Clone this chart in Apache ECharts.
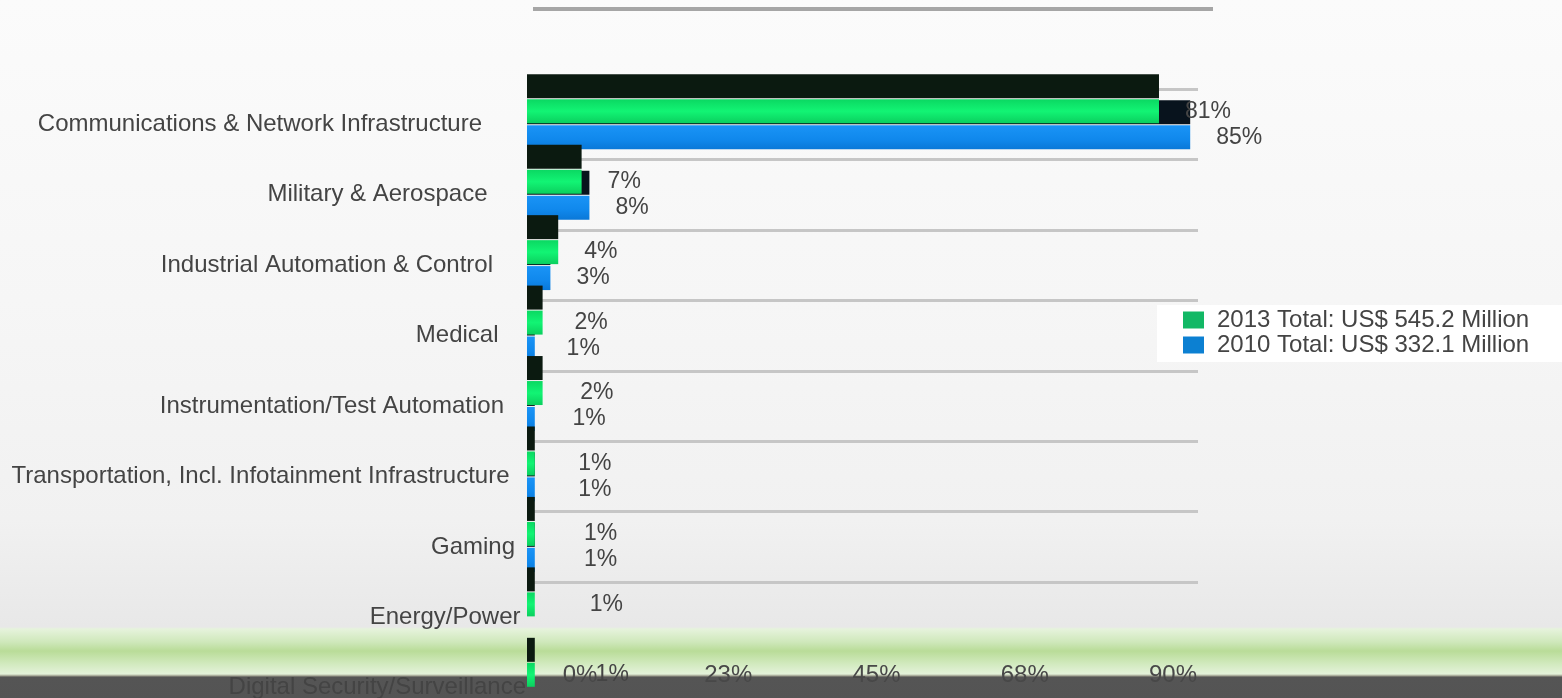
<!DOCTYPE html>
<html>
<head>
<meta charset="utf-8">
<script src="https://cdn.jsdelivr.net/npm/echarts@6/dist/echarts.min.js"></script>
<style>
html,body{margin:0;padding:0;}
#chart{width:1562px;height:698px;
background:linear-gradient(to bottom,#fbfbfb 0px,#f6f6f6 300px,#f1f1f1 520px,#e8e8e8 627px,#e6f3dc 629px,#cfe8bb 642px,#b9dc98 651px,#d2eabf 664px,#e4f2da 674px,#9a9a8a 676px,#555555 677px,#545454 698px);}
</style>
</head>
<body>
<div id="chart"></div>
<script>
const categories = [
  'Communications & Network Infrastructure',
  'Military & Aerospace',
  'Industrial Automation & Control',
  'Medical',
  'Instrumentation/Test Automation',
  'Transportation, Incl. Infotainment Infrastructure',
  'Gaming',
  'Energy/Power',
  'Digital Security/Surveillance'
];
const share2013 = [81, 7, 4, 2, 2, 1, 1, 1, 1];
const share2010 = [85, 8, 3, 1, 1, 1, 1, null, null];
const seriesNames = ['2013 Total: US$ 545.2 Million', '2010 Total: US$ 332.1 Million'];
const xTicks = [0, 22.5, 45, 67.5, 90];

const FONT = '"Liberation Sans", Arial, sans-serif';
const n = categories.length;
const rich = {};
categories.forEach((c, i) => {
  rich['p' + i] = {
    fontSize: 24, color: '#444', fontFamily: FONT,
    padding: [0, (n - 1 - i) * 5.5, 0, 0]
  };
});
// perspective drift of the value labels toward the lower rows
const labelDrift = p => ({dx: Math.max(0, (p.dataIndex - 2) * 5.8)});

const chart = echarts.init(document.getElementById('chart'), null, {renderer: 'canvas'});
const greenGrad = new echarts.graphic.LinearGradient(0, 0, 0, 1, [
  {offset: 0, color: '#0bd862'}, {offset: 0.5, color: '#12f474'}, {offset: 1, color: '#0bcf5e'}]);
const blueGrad = new echarts.graphic.LinearGradient(0, 0, 0, 1, [
  {offset: 0, color: '#1a94f6'}, {offset: 0.6, color: '#1088ec'}, {offset: 1, color: '#0a78d8'}]);

chart.setOption({
  animation: false,
  textStyle: {fontFamily: FONT},
  graphic: [{
    type: 'line', z: -5, silent: true,
    shape: {x1: 533, y1: 9, x2: 1213, y2: 9},
    style: {stroke: '#a6a6a6', lineWidth: 4}
  }],
  legend: {
    orient: 'vertical', left: 1157, top: 305,
    padding: [3, 36, 5, 26],
    backgroundColor: '#ffffff',
    itemWidth: 21, itemHeight: 17, itemGap: 1,
    icon: 'rect',
    textStyle: {fontSize: 24, color: '#444', lineHeight: 24, padding: [0, 0, 0, 8], fontFamily: FONT},
    data: [
      {name: seriesNames[0], itemStyle: {color: '#12b865', shadowColor: 'rgba(0,0,0,0)', shadowOffsetY: 0, shadowBlur: 0}},
      {name: seriesNames[1], itemStyle: {color: '#0c80d2', shadowColor: 'rgba(0,0,0,0)', shadowOffsetY: 0, shadowBlur: 0}}
    ]
  },
  grid: [
    {left: 527, width: 671, top: 89, height: 634, outerBoundsMode: 'none', containLabel: false},
    {left: 580, width: 593, top: 600, height: 59, outerBoundsMode: 'none', containLabel: false}
  ],
  xAxis: [
    {gridIndex: 0, type: 'value', min: 0, max: 86, show: false},
    {gridIndex: 1, type: 'value', min: xTicks[0], max: xTicks[xTicks.length - 1],
     interval: xTicks[1] - xTicks[0],
     axisLine: {show: false}, axisTick: {show: false}, splitLine: {show: false},
     axisLabel: {margin: 4, fontSize: 24, color: '#484848', fontFamily: FONT,
       formatter: v => Math.round(v) + '%'}}
  ],
  yAxis: [
    {gridIndex: 0, type: 'category', data: categories, inverse: true,
     axisLine: {show: false}, axisTick: {show: false},
     splitLine: {show: true, interval: (idx) => idx < 8, lineStyle: {color: '#c6c6c6', width: 3}},
     axisLabel: {margin: 1, formatter: (v, i) => '{p' + i + '|' + v + '}', rich: rich}},
    {gridIndex: 1, type: 'value', show: false}
  ],
  series: [
    {
      name: seriesNames[0], type: 'bar', xAxisIndex: 0, yAxisIndex: 0,
      data: share2013, barWidth: 24, barGap: '8%', z: 4,
      itemStyle: {color: greenGrad, shadowColor: '#0b1a10', shadowOffsetY: -25, shadowOffsetX: 0, shadowBlur: 0},
      label: {show: true, position: 'right', distance: 26, fontSize: 23, color: '#444', fontFamily: FONT,
        formatter: p => p.value + '%'},
      labelLayout: labelDrift,
      emphasis: {disabled: true}
    },
    {
      name: seriesNames[1], type: 'bar', xAxisIndex: 0, yAxisIndex: 0,
      data: share2010, barWidth: 24, z: 3,
      itemStyle: {color: blueGrad, shadowColor: '#08131d', shadowOffsetY: -25, shadowOffsetX: 0, shadowBlur: 0},
      label: {show: true, position: 'right', distance: 26, fontSize: 23, color: '#444', fontFamily: FONT,
        formatter: p => p.value + '%'},
      labelLayout: labelDrift,
      emphasis: {disabled: true}
    }
  ]
});
</script>
</body>
</html>
